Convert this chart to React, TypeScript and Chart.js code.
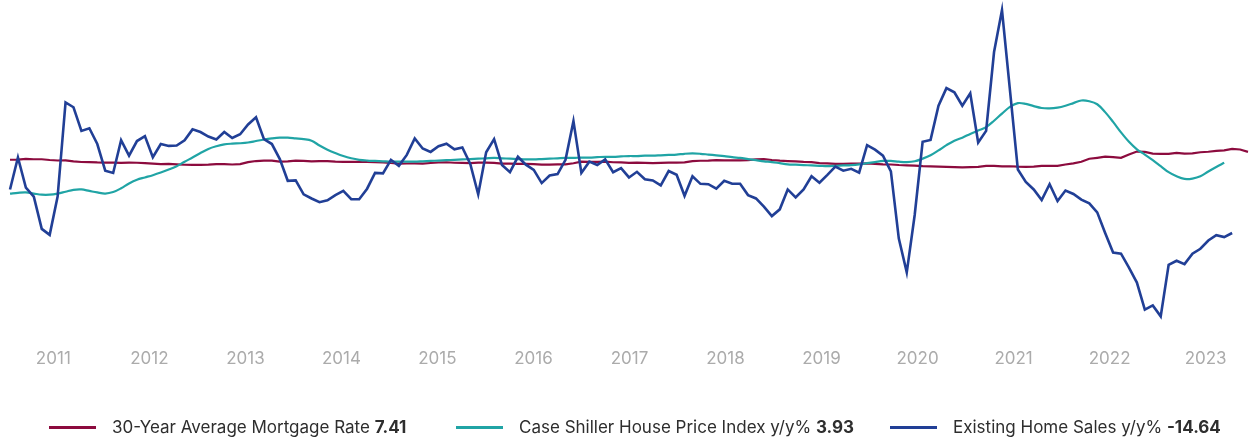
import React, { useEffect, useRef } from "react";
import { Chart, registerables } from "chart.js";

Chart.register(...registerables);

// Monthly observations, first point = Dec 2010
const YEARS = ["2011", "2012", "2013", "2014", "2015", "2016", "2017", "2018", "2019", "2020", "2021", "2022", "2023"];

const MORTGAGE_RATE = [
  4.71,
  4.76, 4.95, 4.84, 4.84, 4.64, 4.51, 4.55, 4.27, 4.11, 4.07, 3.99, 3.96,
  3.92, 3.89, 3.95, 3.91, 3.80, 3.68, 3.55, 3.60, 3.50, 3.38, 3.35, 3.35,
  3.41, 3.53, 3.57, 3.45, 3.54, 4.07, 4.37, 4.46, 4.49, 4.19, 4.26, 4.46,
  4.43, 4.30, 4.34, 4.34, 4.19, 4.16, 4.13, 4.12, 4.16, 4.04, 4.00, 3.86,
  3.67, 3.71, 3.77, 3.67, 3.84, 3.98, 4.05, 3.91, 3.89, 3.80, 3.94, 3.96,
  3.87, 3.66, 3.69, 3.61, 3.60, 3.57, 3.44, 3.44, 3.46, 3.47, 3.77, 4.20,
  4.15, 4.17, 4.20, 4.05, 4.01, 3.90, 3.97, 3.88, 3.81, 3.90, 3.92, 3.95,
  4.03, 4.33, 4.44, 4.47, 4.59, 4.57, 4.53, 4.55, 4.63, 4.83, 4.87, 4.64,
  4.46, 4.37, 4.27, 4.14, 4.07, 3.80, 3.77, 3.62, 3.61, 3.69, 3.70, 3.72,
  3.62, 3.47, 3.45, 3.31, 3.23, 3.16, 3.02, 2.94, 2.89, 2.83, 2.77, 2.68,
  2.74, 2.81, 3.08, 3.06, 2.96, 2.98, 2.87, 2.84, 2.90, 3.07, 3.07, 3.10,
  3.45, 3.76, 4.17, 4.98, 5.23, 5.52, 5.41, 5.22, 6.11, 6.90, 6.81, 6.36,
  6.27, 6.26, 6.54, 6.34, 6.43, 6.71, 6.84, 7.07, 7.20, 7.62, 7.44, 6.82,
];

const CASE_SHILLER = [
  -4.3,
  -4.1, -4.0, -4.3, -4.6, -4.6, -4.3, -3.8, -3.3, -3.2, -3.6, -4.0, -4.3,
  -3.9, -2.9, -1.6, -0.6, 0.0, 0.6, 1.3, 2.1, 3.0, 4.2, 5.3, 6.5,
  7.6, 8.3, 8.8, 9.0, 9.1, 9.3, 9.7, 10.1, 10.4, 10.6, 10.6, 10.4,
  10.2, 9.8, 8.5, 7.4, 6.5, 5.7, 5.1, 4.7, 4.5, 4.4, 4.3, 4.2,
  4.2, 4.2, 4.2, 4.3, 4.4, 4.5, 4.6, 4.7, 4.8, 4.9, 5.0, 5.1,
  5.2, 5.1, 5.0, 4.9, 4.8, 4.8, 4.9, 5.0, 5.1, 5.2, 5.2, 5.3,
  5.3, 5.4, 5.5, 5.5, 5.6, 5.7, 5.7, 5.8, 5.8, 5.9, 6.0, 6.1,
  6.3, 6.4, 6.3, 6.1, 5.9, 5.7, 5.4, 5.2, 4.9, 4.6, 4.3, 4.1,
  3.8, 3.5, 3.4, 3.3, 3.2, 3.1, 3.0, 3.1, 3.2, 3.3, 3.5, 3.8,
  4.1, 4.4, 4.4, 4.2, 4.1, 4.3, 5.0, 5.9, 7.2, 8.6, 9.8, 10.6,
  11.6, 12.5, 13.4, 15.1, 17.0, 18.8, 19.8, 19.6, 19.0, 18.5, 18.4, 18.6,
  19.1, 19.8, 20.5, 20.3, 19.5, 17.4, 14.8, 12.0, 9.5, 7.5, 6.1, 4.6,
  3.0, 1.4, 0.3, -0.4, -0.3, 0.3, 1.6, 2.8, 3.9,
];

const HOME_SALES = [
  -3.2,
  5.3, -2.7, -5.1, -13.7, -15.3, -5.1, 20.0, 18.7, 12.4, 13.1, 8.9, 1.8,
  1.2, 9.9, 5.8, 9.7, 11.0, 5.4, 8.9, 8.4, 8.5, 9.9, 12.8, 12.1,
  10.9, 10.1, 12.1, 10.5, 11.5, 14.1, 16.0, 10.2, 8.9, 4.9, -0.9, -0.8,
  -4.5, -5.6, -6.6, -6.1, -4.7, -3.6, -5.8, -5.8, -3.0, 1.2, 1.1, 4.7,
  3.1, 6.0, 10.4, 7.7, 6.8, 8.3, 9.0, 7.5, 8.0, 3.6, -4.5, 6.7,
  10.2, 3.3, 1.4, 5.5, 3.4, 2.0, -1.5, 0.5, 0.9, 4.7, 15.0, 1.2,
  4.2, 3.3, 4.8, 1.4, 2.5, 0.0, 1.5, -0.5, -0.8, -2.1, 1.7, 0.7,
  -4.9, 0.3, -1.7, -1.8, -3.0, -0.9, -1.7, -1.7, -4.7, -5.6, -7.8, -10.3,
  -8.5, -3.2, -5.3, -3.2, 0.3, -1.4, 0.7, 2.9, 1.8, 2.3, 1.3, 8.6,
  7.4, 5.8, 1.6, -16.3, -25.3, -10.0, 9.5, 10.0, 19.1, 23.8, 22.7, 19.1,
  22.4, 9.3, 12.4, 33.4, 44.6, 23.3, 2.1, -1.2, -3.2, -6.0, -1.8, -6.3,
  -3.5, -4.4, -5.9, -6.9, -9.3, -14.8, -20.0, -20.3, -24.0, -28.0, -35.2, -34.1,
  -37.0, -23.3, -22.2, -23.1, -20.3, -19.0, -16.8, -15.4, -15.9, -14.8,
];

const SERIES_NAMES = ["30-Year Average Mortgage Rate", "Case Shiller House Price Index y/y%", "Existing Home Sales y/y%"];
const LATEST_VALUES = ["7.41", "3.93", "-14.64"];
const SERIES_COLORS = ["#8c0b3e", "#20a4a5", "#213f96"];

// layout / style
const Y_MIN = -40;
const Y_MAX = 47;
const X_MAX = 156;
const YEAR_TICK_FIRST = 5.46;
const YEAR_TICK_STEP = 12.1;
const FONT = "Inter, 'Noto Sans', sans-serif";
const LEGEND_LEFTS = [49, 456, 890];

const toPoints = (arr: number[]) => arr.map((v, i) => ({ x: i, y: v }));

export default function App() {
  const canvasRef = useRef<HTMLCanvasElement | null>(null);

  useEffect(() => {
    if (!canvasRef.current) return;
    const series = [MORTGAGE_RATE, CASE_SHILLER, HOME_SALES];
    const widths = [2.2, 2.2, 2.6];
    const orders = [2, 1, 0];
    const chart = new Chart(canvasRef.current, {
      type: "line",
      data: {
        datasets: series.map((s, k) => ({
          label: SERIES_NAMES[k],
          data: toPoints(s),
          borderColor: SERIES_COLORS[k],
          backgroundColor: SERIES_COLORS[k],
          borderWidth: widths[k],
          pointRadius: 0,
          tension: k === 1 ? 0.35 : 0,
          fill: false,
          order: orders[k],
          clip: false as any,
        })),
      },
      options: {
        animation: false,
        responsive: false,
        maintainAspectRatio: false,
        layout: { padding: { left: 10, right: 1, top: 1, bottom: 48 } },
        plugins: { legend: { display: false }, tooltip: { enabled: false } },
        scales: {
          x: {
            type: "linear",
            min: 0,
            max: X_MAX,
            grid: { display: false, drawTicks: false },
            border: { display: false },
            afterBuildTicks: (scale: any) => {
              scale.ticks = YEARS.map((_, k) => ({ value: YEAR_TICK_FIRST + k * YEAR_TICK_STEP }));
            },
            ticks: {
              autoSkip: false,
              maxRotation: 0,
              padding: 21,
              color: "#ababab",
              font: { family: FONT, size: 17 },
              callback: (_v: any, idx: number) => YEARS[idx],
            },
          },
          y: { display: false, min: Y_MIN, max: Y_MAX },
        },
      },
    });
    return () => chart.destroy();
  }, []);

  return (
    <div style={{ position: "absolute", left: 0, top: 0, width: 1249, height: 438, background: "#fff", overflow: "hidden" }}>
      <canvas ref={canvasRef} width={1249} height={438} style={{ position: "absolute", left: 0, top: 0, width: 1249, height: 438 }} />
      {SERIES_NAMES.map((name, k) => (
        <div
          key={name}
          style={{
            position: "absolute",
            left: LEGEND_LEFTS[k],
            top: 416,
            height: 22,
            display: "flex",
            alignItems: "center",
            whiteSpace: "nowrap",
            fontFamily: FONT,
            fontSize: 17,
            color: "#2e2e2e",
          }}
        >
          <span style={{ display: "inline-block", width: 47, height: 3, background: SERIES_COLORS[k], marginRight: 16 }} />
          <span>
            {name} <b style={{ fontWeight: 700 }}>{LATEST_VALUES[k]}</b>
          </span>
        </div>
      ))}
    </div>
  );
}
